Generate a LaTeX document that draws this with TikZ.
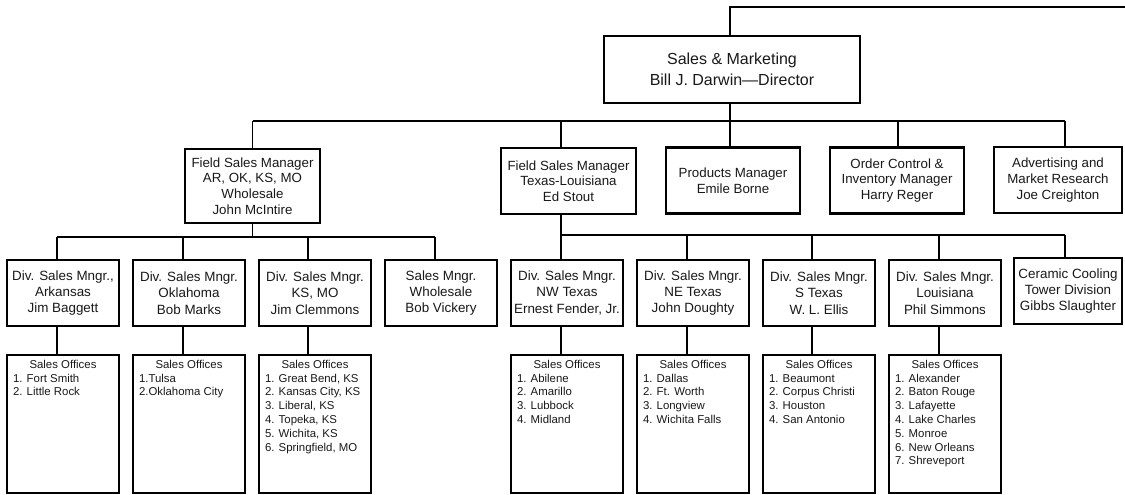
\documentclass[tikz,border=0pt]{standalone}
\usepackage{fontspec}
\setmainfont{Liberation Sans}
\begin{document}
\begin{tikzpicture}[x=1pt,y=-1pt,
  box/.style={draw=black, line width=2.6pt, fill=white, inner sep=0pt, text=black!90},
  head/.style={box, align=center, minimum width=256pt, minimum height=67pt, font=\fontsize{16}{21}\selectfont},
  mgr/.style={box, align=center, minimum width=135pt, minimum height=66pt, font=\fontsize{13.3}{15.7}\selectfont},
  div/.style={box, align=center, minimum width=112pt, minimum height=66pt, font=\fontsize{13.4}{16.3}\selectfont},
  offices/.style={box, minimum width=112pt, minimum height=138pt, inner xsep=6pt, inner ysep=4pt, font=\fontsize{11.4}{13.8}\selectfont},
  conn/.style={draw=black, line width=1.3pt}
]
\newcommand{\officelist}[1]{\parbox[t][128pt][t]{100pt}{\centering Sales Offices\par\raggedright #1}}
\useasboundingbox (0,0) rectangle (1125,495);

% director
\node[head] (dir) at (732,69.5) {Sales \& Marketing\\Bill J. Darwin\textemdash Director};

% second level
\node[mgr, minimum height=74pt] (fsmN) at (252.5,186) {Field Sales Manager\\AR, OK, KS, MO\\Wholesale\\John McIntire};
\node[mgr] (fsmS) at (568.5,181) {Field Sales Manager\\Texas-Louisiana\\Ed Stout};
\node[mgr, minimum width=134pt] (prod) at (733,180.5) {Products Manager\\Emile Borne};
\node[mgr, minimum width=134pt] (ord) at (897,180.5) {Order Control \&\\Inventory Manager\\Harry Reger};
\node[mgr, minimum width=128pt] (adv) at (1058,180) {Advertising and\\Market Research\\Joe Creighton};

% division managers
\node[div] (ark)  at (63,293)  {Div. Sales Mngr.,\\Arkansas\\Jim Baggett};
\node[div] (okl)  at (189,293) {Div. Sales Mngr.\\Oklahoma\\Bob Marks};
\node[div] (ksmo) at (315,293) {Div. Sales Mngr.\\KS, MO\\Jim Clemmons};
\node[div] (whs)  at (441,293) {Sales Mngr.\\Wholesale\\Bob Vickery};
\node[div] (nwtx) at (567,293) {Div. Sales Mngr.\\NW Texas\\Ernest Fender, Jr.};
\node[div] (netx) at (693,293) {Div. Sales Mngr.\\NE Texas\\John Doughty};
\node[div] (stx)  at (819,293) {Div. Sales Mngr.\\S Texas\\W. L. Ellis};
\node[div] (la)   at (945,293) {Div. Sales Mngr.\\Louisiana\\Phil Simmons};
\node[div, minimum width=108pt] (cer) at (1068,291) {Ceramic Cooling\\Tower Division\\Gibbs Slaughter};

% sales offices
\node[offices] (arkO) at (63,424)  {\officelist{1. Fort Smith\\2. Little Rock}};
\node[offices] (oklO) at (189,424) {\officelist{1.Tulsa\\2.Oklahoma City}};
\node[offices] (ksO)  at (315,424) {\officelist{1. Great Bend, KS\\2. Kansas City, KS\\3. Liberal, KS\\4. Topeka, KS\\5. Wichita, KS\\6. Springfield, MO}};
\node[offices] (nwO)  at (567,424) {\officelist{1. Abilene\\2. Amarillo\\3. Lubbock\\4. Midland}};
\node[offices] (neO)  at (693,424) {\officelist{1. Dallas\\2. Ft. Worth\\3. Longview\\4. Wichita Falls}};
\node[offices] (sO)   at (819,424) {\officelist{1. Beaumont\\2. Corpus Christi\\3. Houston\\4. San Antonio}};
\node[offices] (laO)  at (945,424) {\officelist{1. Alexander\\2. Baton Rouge\\3. Lafayette\\4. Lake Charles\\5. Monroe\\6. New Orleans\\7. Shreveport}};

% connectors
\coordinate (topend) at (1125,7);
\coordinate (bus1) at (0,121);
\coordinate (bus2) at (0,237);
\coordinate (bus3) at (0,235);

\draw[conn] ([xshift=-2pt]dir.north) |- (topend);
\draw[conn] ([xshift=-2pt]dir.south) -- ([xshift=-2pt]dir.south |- bus1);
\draw[conn] (fsmN.north |- bus1) -- ([xshift=7pt]adv.north |- bus1);
\foreach \n/\d in {fsmN/0,fsmS/-7.5,prod/-3,ord/1,adv/7}
  \draw[conn] ([xshift=\d pt]\n.north) -- ([xshift=\d pt]\n.north |- bus1);

\draw[conn] (fsmN.south) -- (fsmN.south |- bus2);
\draw[conn] ([xshift=-6pt]ark.north |- bus2) -- ([xshift=-6pt]whs.north |- bus2);
\foreach \n/\d in {ark/-6,okl/-6,ksmo/-7,whs/-6}
  \draw[conn] ([xshift=\d pt]\n.north) -- ([xshift=\d pt]\n.north |- bus2);

\draw[conn] ([xshift=-7.5pt]fsmS.south) -- ([xshift=-7.5pt]fsmS.south |- bus3);
\draw[conn] ([xshift=-6pt]nwtx.north |- bus3) -- ([xshift=-3pt]cer.north |- bus3);
\foreach \n/\d in {nwtx/-6,netx/-6,stx/-7,la/-6,cer/-3}
  \draw[conn] ([xshift=\d pt]\n.north) -- ([xshift=\d pt]\n.north |- bus3);

\foreach \a/\b/\d in {ark/arkO/-6,okl/oklO/-6,ksmo/ksO/-7,nwtx/nwO/-6,netx/neO/-6,stx/sO/-7,la/laO/-6}
  \draw[conn] ([xshift=\d pt]\a.south) -- ([xshift=\d pt]\b.north);
\end{tikzpicture}
\end{document}
